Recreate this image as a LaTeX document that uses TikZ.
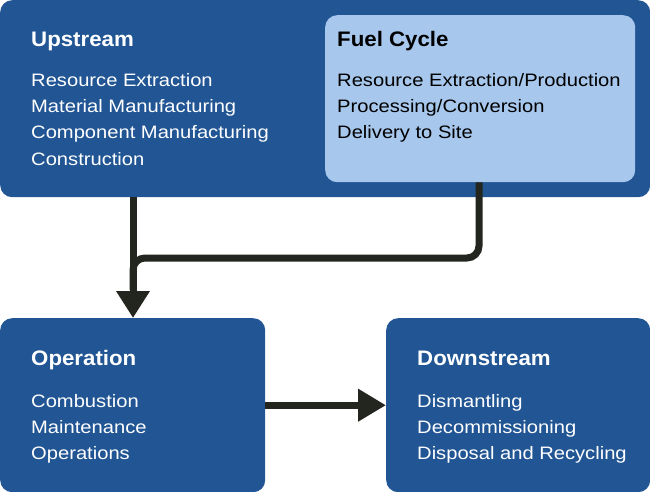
\documentclass[tikz,border=0pt]{standalone}
\usepackage{fontspec}
\setmainfont{Liberation Sans}
\newfontfamily\bodyfont[FakeStretch=1.12]{Liberation Sans}
\newfontfamily\titlefont[FakeStretch=1.06]{Liberation Sans}
\usetikzlibrary{arrows.meta}
\definecolor{darkblue}{HTML}{215594}
\definecolor{lightblue}{HTML}{A7C7EC}
\definecolor{arrowcol}{HTML}{22261F}
\begin{document}
\begin{tikzpicture}[x=1pt,y=-1pt,
  box/.style={draw=none,rounded corners=12pt,anchor=north west,inner sep=0pt},
  title/.style={anchor=base west,inner sep=0pt,font=\titlefont\fontsize{21}{24}\selectfont\bfseries},
  item/.style={anchor=base west,inner sep=0pt,font=\bodyfont\fontsize{18}{22}\selectfont},
  conn/.style={draw=arrowcol,line width=7pt},
]
\useasboundingbox (0,0) rectangle (650,492);
% boxes
\node[box,fill=darkblue,minimum width=650pt,minimum height=197pt] (up) at (0,0) {};
\node[box,fill=lightblue,minimum width=310pt,minimum height=167pt] (fuel) at (325,15) {};
\node[box,fill=darkblue,minimum width=265pt,minimum height=174pt] (op) at (0,318) {};
\node[box,fill=darkblue,minimum width=264pt,minimum height=174pt] (down) at (386,318) {};
% upstream text
\node[title,text=white] (upT) at (31,47) {Upstream};
\node[item,text=white] (up1) at (31,87) {Resource Extraction};
\node[item,text=white] (up2) at (31,113) {Material Manufacturing};
\node[item,text=white] (up3) at (31,139) {Component Manufacturing};
\node[item,text=white] (up4) at (31,165) {Construction};
% fuel cycle text
\node[title,text=black] (fuT) at (337,47) {Fuel Cycle};
\node[item,text=black] (fu1) at (337,87) {Resource Extraction/Production};
\node[item,text=black] (fu2) at (337,113) {Processing/Conversion};
\node[item,text=black] (fu3) at (337,139) {Delivery to Site};
% operation text
\node[title,text=white] (opT) at (31,365) {Operation};
\node[item,text=white] (op1) at (31,407) {Combustion};
\node[item,text=white] (op2) at (31,433) {Maintenance};
\node[item,text=white] (op3) at (31,459) {Operations};
% downstream text
\node[title,text=white] (dnT) at (417,365) {Downstream};
\node[item,text=white] (dn1) at (417,407) {Dismantling};
\node[item,text=white] (dn2) at (417,433) {Decommissioning};
\node[item,text=white] (dn3) at (417,459) {Disposal and Recycling};
% connectors
\coordinate (merge) at (133,290);
\draw[conn,rounded corners=12pt] (fuel.south -| 479,0) -- (479,258) -- (133,258) -- (merge);
\draw[conn,-{Triangle[width=32pt,length=27pt]}] (up.south -| 133,0) -- (op.north -| 133,0);
\draw[conn,-{Triangle[width=31pt,length=28pt]}] (op.east) -- (down.west);
\end{tikzpicture}
\end{document}
